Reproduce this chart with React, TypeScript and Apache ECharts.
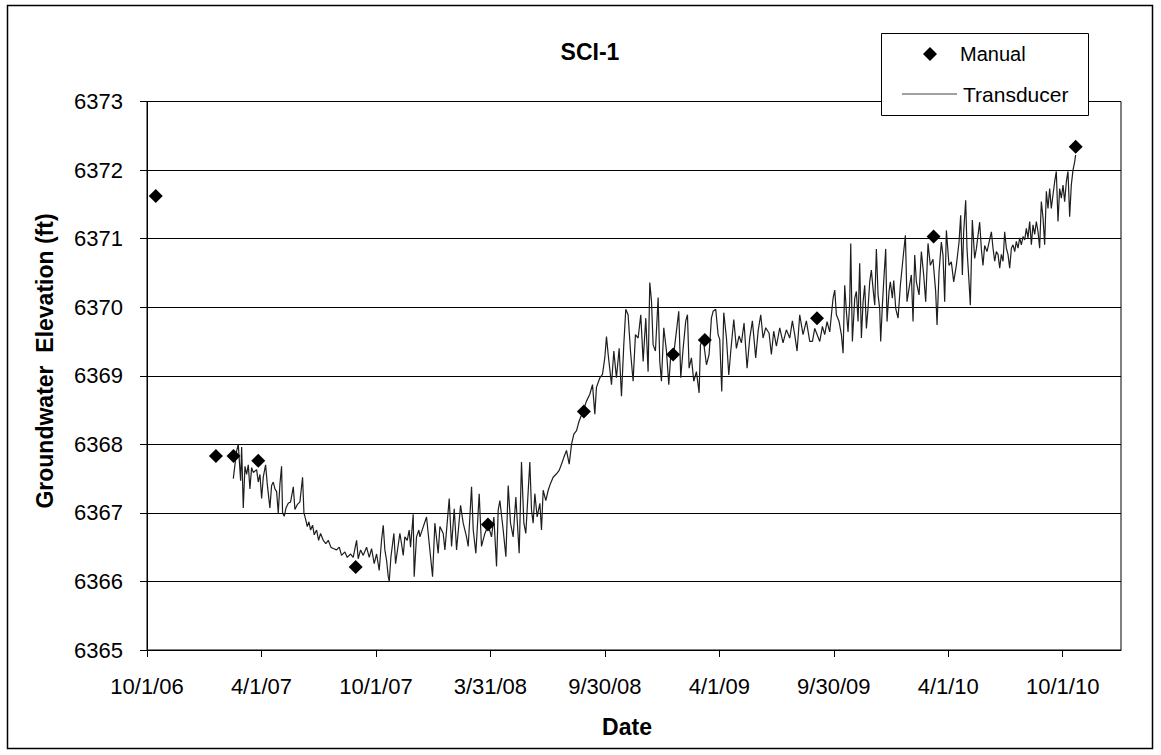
import React, { useEffect, useRef } from "react";
import * as echarts from "echarts";

const FONT = '"Liberation Sans", Arial, sans-serif';

// x values are days since 10/1/06
const tickLabels = ["10/1/06", "4/1/07", "10/1/07", "3/31/08", "9/30/08", "4/1/09", "9/30/09", "4/1/10", "10/1/10"];
const TICK_STEP = 182.625; // half a year, in days
const X_MAX = 1554; // 1/1/11
const Y_MIN = 6365;
const Y_MAX = 6373;

const manualDays = [14, 110, 138, 177.5, 333, 544, 697, 839.4, 890, 1069, 1255, 1481.7];
const manualLevels = [6371.62, 6367.83, 6367.83, 6367.76, 6366.21, 6366.83, 6368.48, 6369.31, 6369.52, 6369.84, 6371.03, 6372.34];

const transducer2007: [number, number][] = [
  [137.7, 6367.5], [140.3, 6367.7], [143.0, 6367.9], [145.6, 6368.0], [149.4, 6367.47], [151.0, 6367.96], [153.6, 6367.07],
  [156.3, 6367.68], [158.9, 6367.56], [161.6, 6367.7], [164.2, 6367.35], [166.9, 6367.66], [169.6, 6367.59], [174.9, 6367.63],
  [177.5, 6367.45], [180.2, 6367.56], [182.9, 6367.21], [185.5, 6367.52], [189.2, 6367.7], [191.9, 6367.42], [196.1, 6367.07],
  [198.8, 6367.4], [201.5, 6367.45], [204.1, 6367.35], [206.8, 6367.31], [209.4, 6367.0], [212.1, 6367.42], [214.7, 6367.68],
  [216.3, 6367.0], [219.0, 6366.95], [221.7, 6367.07], [225.4, 6367.14], [229.1, 6367.16], [233.4, 6367.38], [236.0, 6367.05],
  [239.7, 6367.12], [244.0, 6367.16], [248.2, 6367.52], [250.4, 6367.0], [253.5, 6366.89], [255.7, 6366.8], [258.3, 6366.87],
  [261.0, 6366.75], [264.2, 6366.82], [266.8, 6366.68], [270.6, 6366.75], [273.8, 6366.6], [276.9, 6366.7], [281.2, 6366.6],
  [285.4, 6366.55], [289.2, 6366.6], [293.4, 6366.5], [297.1, 6366.48], [302.5, 6366.46], [306.7, 6366.5], [310.4, 6366.38],
  [315.7, 6366.43], [319.5, 6366.35], [324.8, 6366.4], [329.0, 6366.35], [334.4, 6366.6], [337.0, 6366.33], [340.7, 6366.46],
  [345.0, 6366.38], [350.3, 6366.5], [354.6, 6366.35], [358.3, 6366.48], [362.5, 6366.26], [366.3, 6366.4], [370.5, 6366.16],
  [374.2, 6366.6], [376.9, 6366.82], [379.5, 6366.46], [382.2, 6366.31], [384.9, 6366.07], [386.5, 6366.0], [389.1, 6366.35],
  [391.8, 6366.55], [393.9, 6366.7], [396.6, 6366.26], [399.7, 6366.46], [403.5, 6366.7], [406.1, 6366.55], [408.8, 6366.38],
  [411.4, 6366.65], [415.2, 6366.6], [418.3, 6366.75], [420.5, 6366.5], [424.7, 6366.98], [426.3, 6366.07], [430.0, 6366.65],
  [433.8, 6366.75],
];

const transducer2008: [number, number][] = [
  [435.4, 6366.65], [446.0, 6366.94], [455.6, 6366.07], [459.3, 6366.85], [464.6, 6366.41], [467.3, 6366.8], [472.6, 6366.7],
  [475.3, 6366.46], [482.2, 6367.21], [485.9, 6366.51], [490.2, 6367.06], [493.9, 6366.46], [500.3, 6367.11], [504.5, 6366.85],
  [509.8, 6366.65], [512.5, 6366.51], [517.8, 6367.38], [520.5, 6366.75], [524.7, 6366.41], [530.0, 6367.28], [533.7, 6366.51],
  [539.1, 6366.7], [544.4, 6366.82], [549.7, 6366.65], [553.4, 6366.94], [557.7, 6366.22], [560.3, 6367.04], [563.0, 6367.18],
  [568.3, 6366.75], [572.6, 6366.36], [576.3, 6367.4], [580.0, 6366.85], [584.2, 6366.65], [588.5, 6367.23], [593.8, 6366.41],
  [597.5, 6367.74], [601.3, 6366.85], [604.4, 6366.7], [610.8, 6367.74], [613.5, 6367.04], [616.1, 6366.85], [618.8, 6367.28],
  [622.5, 6366.94], [626.8, 6367.14], [629.4, 6366.75], [632.1, 6367.33], [636.3, 6367.18], [640.1, 6367.33], [643.8, 6367.43],
  [648.0, 6367.52], [653.4, 6367.57], [657.6, 6367.62], [661.3, 6367.71], [665.1, 6367.81], [669.3, 6367.91], [673.6, 6367.71],
  [677.3, 6368.0], [681.0, 6368.15], [685.3, 6368.2], [689.5, 6368.34], [694.8, 6368.46], [701.2, 6368.63], [706.5, 6368.73],
  [710.8, 6368.87], [714.5, 6368.44], [717.1, 6368.83], [722.5, 6368.97], [726.7, 6369.02], [730.4, 6369.26], [733.1, 6369.57],
  [735.8, 6369.31],
];

const transducer2009: [number, number][] = [
  [741.1, 6368.87], [744.8, 6369.36], [749.0, 6368.97], [753.3, 6369.4], [757.0, 6368.7], [760.7, 6369.45], [763.9, 6369.97],
  [767.6, 6369.89], [771.4, 6369.36], [775.6, 6368.92], [779.3, 6369.6], [783.6, 6369.55], [787.8, 6369.89], [791.6, 6369.21],
  [795.8, 6369.84], [799.5, 6369.06], [802.2, 6370.36], [804.9, 6370.09], [807.5, 6369.45], [811.2, 6369.36], [815.5, 6370.14],
  [818.1, 6369.21], [820.8, 6368.92], [824.5, 6369.7], [828.8, 6369.36], [832.5, 6368.87], [835.7, 6369.31], [839.4, 6369.25],
  [842.1, 6369.45], [844.7, 6369.65], [848.4, 6369.94], [851.6, 6368.97], [855.4, 6369.4], [859.6, 6369.8], [862.3, 6369.89],
  [864.9, 6369.11], [868.6, 6369.26], [872.4, 6368.92], [876.6, 6369.06], [880.9, 6368.75], [883.0, 6369.45], [887.2, 6369.55],
  [892.6, 6369.16], [896.8, 6369.31], [900.5, 6369.84], [903.2, 6369.94], [907.4, 6369.97], [911.2, 6369.6], [913.8, 6369.53],
  [917.0, 6368.77], [920.2, 6369.92], [924.5, 6369.55], [928.2, 6369.01], [931.4, 6369.36], [936.2, 6369.82], [940.4, 6369.4],
  [944.7, 6369.58], [948.4, 6369.48], [952.6, 6369.77], [957.4, 6369.11], [961.7, 6369.55], [965.9, 6369.8], [971.2, 6369.26],
  [975.0, 6369.65], [979.2, 6369.89], [982.9, 6369.55], [987.2, 6369.7], [992.5, 6369.62], [996.2, 6369.31], [999.9, 6369.65],
  [1004.2, 6369.43], [1009.5, 6369.7], [1014.8, 6369.48], [1020.1, 6369.67], [1025.5, 6369.55], [1029.7, 6369.8], [1033.4, 6369.6],
  [1037.2, 6369.36], [1041.4, 6369.89], [1046.7, 6369.6], [1052.0, 6369.8], [1057.4, 6369.5],
];

const transducer2010: [number, number][] = [
  [1061.7, 6369.5], [1065.4, 6369.69], [1073.4, 6369.5], [1077.6, 6369.72], [1081.3, 6369.6], [1085.0, 6369.79], [1089.3, 6369.64],
  [1092.0, 6369.89], [1094.6, 6370.13], [1097.3, 6370.25], [1099.9, 6369.89], [1104.2, 6369.79], [1107.9, 6369.6], [1110.6, 6369.33],
  [1113.2, 6370.32], [1115.9, 6369.93], [1118.5, 6369.64], [1121.2, 6370.08], [1122.8, 6370.93], [1125.4, 6369.5], [1129.2, 6370.13],
  [1131.8, 6370.23], [1134.5, 6369.79], [1137.1, 6370.64], [1139.8, 6369.55], [1142.5, 6370.08], [1145.1, 6370.32], [1147.8, 6369.69],
  [1150.4, 6369.98], [1153.1, 6370.37], [1155.7, 6370.54], [1158.4, 6370.27], [1161.1, 6370.03], [1163.7, 6370.85], [1166.4, 6370.18],
  [1169.0, 6369.98], [1170.6, 6369.5], [1173.3, 6370.03], [1175.4, 6370.37], [1178.6, 6370.85], [1180.7, 6369.79], [1183.9, 6370.23],
  [1186.0, 6370.37], [1189.2, 6370.13], [1191.4, 6370.39], [1194.6, 6369.98], [1198.3, 6369.84], [1202.0, 6370.32], [1206.2, 6370.71],
  [1210.0, 6371.05], [1212.6, 6370.08], [1215.8, 6370.27], [1219.5, 6370.47], [1222.2, 6369.79], [1224.9, 6370.76], [1227.5, 6370.37],
  [1231.8, 6370.18], [1235.5, 6370.81], [1239.2, 6370.47], [1242.4, 6370.08], [1246.1, 6370.93], [1249.8, 6370.61], [1254.0, 6370.7],
  [1258.3, 6370.23], [1260.5, 6369.74], [1263.7, 6370.52], [1267.4, 6370.95], [1270.0, 6370.76], [1272.7, 6370.08], [1275.4, 6371.12],
  [1279.6, 6370.61], [1283.3, 6370.66], [1287.1, 6370.37], [1291.3, 6370.61], [1295.6, 6370.95], [1298.2, 6371.34], [1300.9, 6370.47],
  [1303.0, 6371.1], [1306.2, 6371.56], [1308.3, 6370.85], [1311.5, 6370.37], [1313.6, 6370.03], [1316.8, 6371.27], [1320.5, 6370.71],
  [1323.2, 6370.85], [1328.5, 6371.24], [1331.2, 6370.85], [1333.8, 6370.61], [1336.5, 6370.9], [1340.2, 6370.81],
];

const transducerLate2010: [number, number][] = [
  [1347.2, 6371.1], [1349.8, 6370.86], [1352.5, 6370.67], [1355.1, 6370.81], [1357.8, 6370.77], [1360.5, 6370.57], [1363.1, 6370.77],
  [1365.8, 6370.67], [1368.4, 6371.1], [1371.1, 6370.86], [1373.7, 6370.77], [1376.4, 6370.57], [1379.1, 6370.86], [1381.7, 6370.91],
  [1384.4, 6370.81], [1387.0, 6370.96], [1389.7, 6370.86], [1392.3, 6371.01], [1395.0, 6370.91], [1397.7, 6371.03], [1400.3, 6370.98],
  [1403.0, 6371.15], [1405.6, 6371.01], [1408.3, 6371.25], [1411.0, 6370.91], [1413.6, 6371.2], [1416.3, 6371.06], [1418.9, 6371.25],
  [1421.6, 6371.1], [1424.2, 6370.86], [1426.9, 6371.54], [1429.6, 6371.3], [1432.2, 6370.91], [1434.9, 6371.69], [1437.5, 6371.44],
  [1440.2, 6371.73], [1442.8, 6371.44], [1445.5, 6371.64], [1448.2, 6371.83], [1450.8, 6371.98], [1453.5, 6371.25], [1456.1, 6371.73],
  [1458.8, 6371.59], [1461.5, 6371.78], [1464.1, 6371.54], [1466.8, 6371.83], [1469.4, 6371.98], [1472.1, 6371.32], [1474.7, 6371.78],
  [1477.4, 6372.0], [1480.1, 6372.12], [1481.6, 6372.22],
];

export default function App() {
  const ref = useRef<HTMLDivElement>(null);

  useEffect(() => {
    if (!ref.current) return;
    const chart = echarts.init(ref.current, null, { renderer: "svg" });
    const tickValues = tickLabels.map((_, i) => i * TICK_STEP);
    const transducer = [...transducer2007, ...transducer2008, ...transducer2009, ...transducer2010, ...transducerLate2010];
    const manual = manualDays.map((d, i) => [d, manualLevels[i]]);
    const z = 100;

    chart.setOption({
      animation: false,
      backgroundColor: "#ffffff",
      textStyle: { fontFamily: FONT },
      grid: {
        left: 147,
        right: 40,
        top: 101.5,
        bottom: 105,
        show: true,
        borderColor: "#000",
        borderWidth: 1,
        backgroundColor: "transparent",
      },
      xAxis: {
        type: "value",
        min: 0,
        max: X_MAX,
        axisLine: { show: true, onZero: false, lineStyle: { color: "#000", width: 1 } },
        axisTick: { show: true, length: 7, lineStyle: { color: "#000" }, customValues: tickValues },
        axisLabel: {
          customValues: tickValues,
          formatter: (v: number) => tickLabels[Math.round(v / TICK_STEP)] ?? "",
          fontSize: 22,
          color: "#000",
          margin: 25,
          fontFamily: FONT,
        },
        splitLine: { show: false },
      },
      yAxis: {
        type: "value",
        min: Y_MIN,
        max: Y_MAX,
        interval: 1,
        axisLine: { show: true, lineStyle: { color: "#000", width: 1 } },
        axisTick: { show: true, length: 7, lineStyle: { color: "#000" } },
        axisLabel: { fontSize: 22, color: "#000", margin: 24, fontFamily: FONT, formatter: (v: number) => String(v) },
        splitLine: { show: true, lineStyle: { color: "#000", width: 1 } },
      },
      series: [
        {
          name: "Transducer",
          type: "line",
          data: transducer,
          showSymbol: false,
          symbol: "none",
          lineStyle: { color: "#1e1e1e", width: 1.2 },
          z: 2,
        },
        {
          name: "Manual",
          type: "scatter",
          data: manual,
          symbol: "diamond",
          symbolSize: 14,
          itemStyle: { color: "#000", opacity: 1 },
          z: 3,
        },
      ],
      graphic: [
        {
          type: "rect",
          silent: true,
          shape: { x: 7.5, y: 5.5, width: 1145, height: 743 },
          style: { fill: "none", stroke: "#000", lineWidth: 1.5 },
          z,
        },
        {
          type: "text",
          x: 590,
          y: 52,
          style: { text: "SCI-1", font: `bold 23px ${FONT}`, fill: "#000", align: "center", verticalAlign: "middle", textAlign: "center", textVerticalAlign: "middle" },
          z,
        },
        {
          type: "text",
          x: 45,
          y: 361,
          rotation: Math.PI / 2,
          style: { text: "Groundwater  Elevation (ft)", font: `bold 23px ${FONT}`, fill: "#000", align: "center", verticalAlign: "middle", textAlign: "center", textVerticalAlign: "middle" },
          z,
        },
        {
          type: "text",
          x: 627,
          y: 727,
          style: { text: "Date", font: `bold 23px ${FONT}`, fill: "#000", align: "center", verticalAlign: "middle", textAlign: "center", textVerticalAlign: "middle" },
          z,
        },
        {
          type: "rect",
          shape: { x: 881.5, y: 33.5, width: 207, height: 82 },
          style: { fill: "#fff", stroke: "#000", lineWidth: 1 },
          z,
        },
        {
          type: "polygon",
          shape: { points: [[930, 47], [937, 54], [930, 61], [923, 54]] },
          style: { fill: "#000" },
          z: z + 1,
        },
        {
          type: "text",
          x: 960,
          y: 54,
          style: { text: "Manual", font: `20px ${FONT}`, fill: "#000", align: "left", verticalAlign: "middle", textAlign: "left", textVerticalAlign: "middle" },
          z: z + 1,
        },
        {
          type: "line",
          shape: { x1: 902, y1: 94, x2: 957, y2: 94 },
          style: { stroke: "#444", lineWidth: 1 },
          z: z + 1,
        },
        {
          type: "text",
          x: 963,
          y: 94,
          style: { text: "Transducer", font: `21px ${FONT}`, fill: "#000", align: "left", verticalAlign: "middle", textAlign: "left", textVerticalAlign: "middle" },
          z: z + 1,
        },
      ],
    });

    return () => chart.dispose();
  }, []);

  return (
    <div
      ref={ref}
      style={{ position: "fixed", left: 0, top: 0, width: 1161, height: 755, background: "#fff" }}
    />
  );
}
